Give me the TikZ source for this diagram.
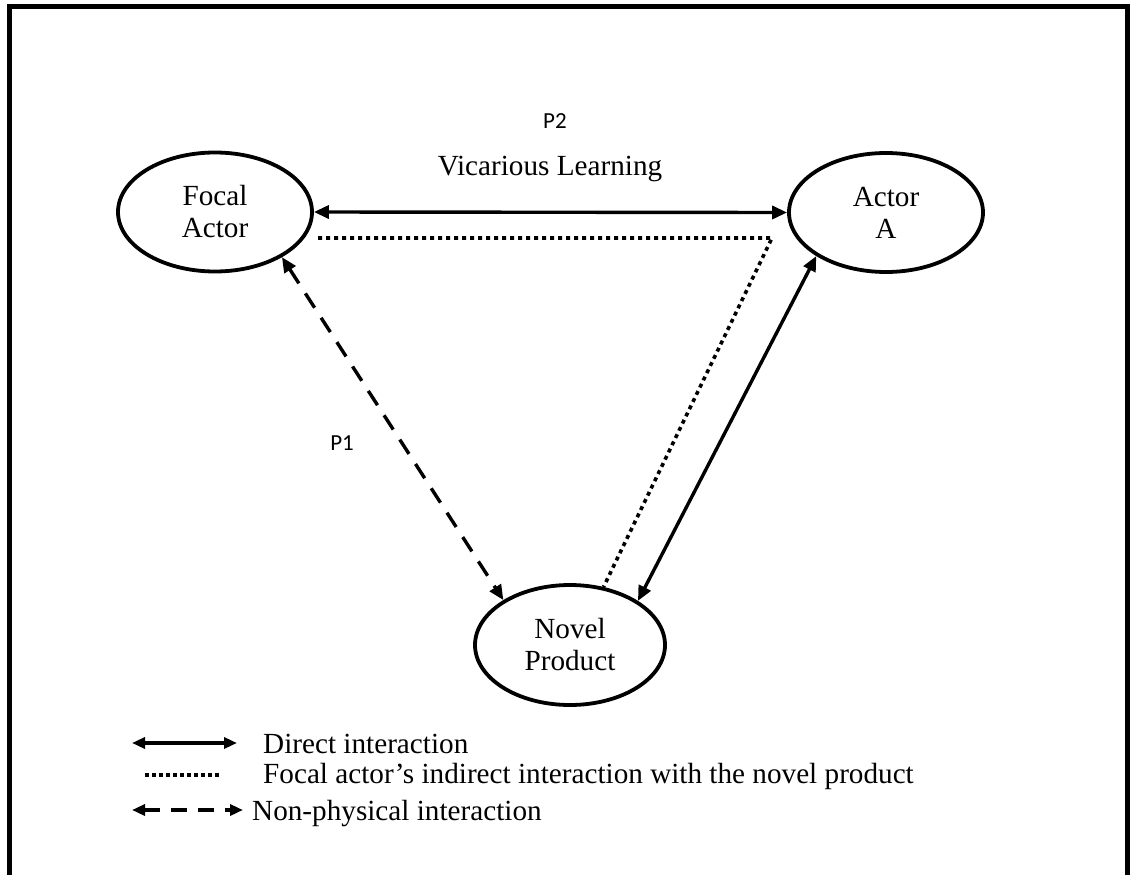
\documentclass[tikz,border=0pt]{standalone}
\usepackage{fontspec}
\setmainfont{Liberation Serif}
\newfontfamily\labelfont{Carlito}
\usetikzlibrary{arrows.meta,shapes.geometric,calc}

\tikzset{
  bigtip/.tip={Triangle[length=15pt, width=13pt]},
  smalltip/.tip={Triangle[length=13pt, width=11pt]},
  actor/.style={draw, ellipse, line width=3.8pt, inner sep=0pt,
    minimum width=194pt, minimum height=119pt, align=center,
    font=\fontsize{29.2}{32}\selectfont},
  txt/.style={inner sep=0pt, font=\fontsize{29.2}{32}\selectfont},
  plabel/.style={inner sep=0pt, font=\labelfont\fontsize{23}{26}\selectfont},
  direct/.style={line width=3.4pt, bigtip-bigtip},
  nonphys/.style={line width=3.4pt, dash pattern=on 17pt off 12pt, bigtip-bigtip},
  indirect/.style={line width=3.6pt, dash pattern=on 4pt off 4pt},
}

\begin{document}
\begin{tikzpicture}[x=1pt, y=-1pt]
  \useasboundingbox (0,0) rectangle (1132,875);

  % outer frame (open at the bottom)
  \draw[line width=5pt] (9.5,890) |- (1127.5,6.5) -- (1127.5,890);

  % actors
  \node[actor] (focal) at (215,212) {Focal\\Actor};
  \node[actor] (actorA) at (886,212.5) {Actor\\A};
  \node[actor, minimum width=190pt, minimum height=120pt] (novel) at (570,645) {Novel\\Product};

  % labels
  \node[plabel, anchor=base] (p2) at (555,128) {P2};
  \node[txt, anchor=base] (vic) at (550,175) {Vicarious Learning};
  \node[plabel, anchor=base east] (p1) at (354,450) {P1};

  % direct interactions
  \draw[direct] (focal.east) -- (actorA.west);
  \draw[direct] (actorA.212) -- (novel.33);

  % non-physical interaction
  \draw[nonphys] (focal.326) -- (novel.146);

  % focal actor's indirect interaction with the novel product
  \coordinate (dotstart) at (318,238);
  \coordinate (dotcorner) at (772,238);
  \draw[indirect] (dotstart) -- (dotcorner) -- (novel.60);

  % legend
  \coordinate (l1a) at (132,743);
  \coordinate (l1b) at (237,743);
  \coordinate (l2a) at (145,775);
  \coordinate (l2b) at (220,775);
  \coordinate (l3a) at (132,810);
  \coordinate (l3b) at (243,810);
  \draw[line width=3.4pt, smalltip-smalltip] (l1a) -- (l1b);
  \draw[line width=3.4pt, dash pattern=on 3.5pt off 3.5pt] (l2a) -- (l2b);
  \draw[line width=3.4pt, dash pattern=on 16pt off 11pt, smalltip-smalltip] (l3a) -- (l3b);
  \node[txt, anchor=base west] (leg1) at (263,753) {Direct interaction};
  \node[txt, anchor=base west] (leg2) at (263,783) {Focal actor’s indirect interaction with the novel product};
  \node[txt, anchor=base west] (leg3) at (252,820) {Non-physical interaction};
\end{tikzpicture}
\end{document}
